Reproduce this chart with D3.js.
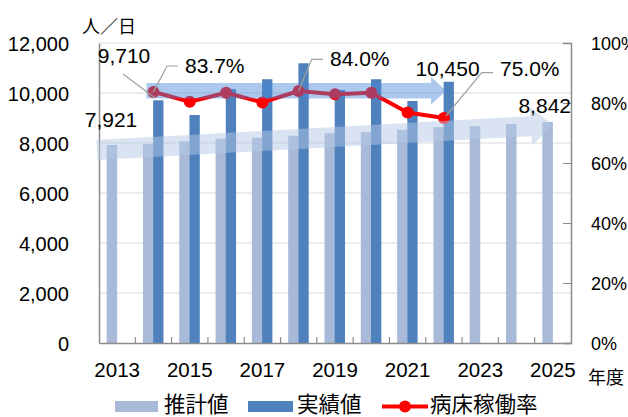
<!DOCTYPE html>
<html><head><meta charset="utf-8">
<script src="https://cdn.jsdelivr.net/npm/d3@7/dist/d3.min.js"></script>
<style>
html,body{margin:0;padding:0;background:#fff;}
text{font-family:"Liberation Sans","Noto Sans CJK JP",sans-serif;fill:#000;}
.cjk{font-family:"Noto Sans CJK JP",sans-serif;}
</style></head>
<body>
<svg id="chart" width="628" height="417"></svg>
<script>
const years = [2013,2014,2015,2016,2017,2018,2019,2020,2021,2022,2023,2024,2025];
const estimate = [7921,7960,8070,8170,8210,8290,8390,8440,8530,8630,8670,8760,8842];
const actual = [null,9710,9120,10150,10550,11190,10120,10550,9680,10450,null,null,null];
const rate = [null,0.837,0.804,0.834,0.802,0.840,0.829,0.834,0.768,0.750,null,null,null];
const yTicksLeft = [0,2000,4000,6000,8000,10000,12000];
const yTicksRight = [0,0.2,0.4,0.6,0.8,1.0];
const xLabelYears = [2013,2015,2017,2019,2021,2023,2025];
const seriesNames = ["推計値","実績値","病床稼働率"];

const svg = d3.select("#chart");
const L = 99, R = 571, T = 43, B = 343;
const x = d3.scaleBand().domain(years).range([L, R]).paddingInner(0).paddingOuter(0);
const yL = d3.scaleLinear().domain([0,12000]).range([B, T]);
const yR = d3.scaleLinear().domain([0,1]).range([B, T]);
const cx = yr => x(yr) + x.bandwidth()/2;
const estColor = "#A9BAD8", actColor = "#4F81BD", lineColor = "#FF0000", axisColor = "#8C8C8C";

// gridlines
svg.append("g").selectAll("line").data(yTicksLeft.filter(d=>d>0)).join("line")
  .attr("x1", L).attr("x2", R).attr("y1", d=>yL(d)).attr("y2", d=>yL(d))
  .attr("stroke", "#D9D9D9").attr("stroke-width", 1);

// left axis
const gL = svg.append("g").attr("transform", `translate(${L},0)`)
  .call(d3.axisLeft(yL).tickValues(yTicksLeft).tickSize(0).tickPadding(30).tickFormat(d3.format(",")));
gL.select(".domain").attr("stroke", axisColor).attr("stroke-width", 1.5);
gL.selectAll("text").attr("font-size", 20).attr("font-family", "Liberation Sans").attr("dy", "0.35em");

// right axis
const gR = svg.append("g").attr("transform", `translate(${R},0)`)
  .call(d3.axisRight(yR).tickValues(yTicksRight).tickSize(-8).tickPadding(30).tickFormat(d3.format(".0%")));
gR.select(".domain").attr("stroke", axisColor).attr("stroke-width", 1.5);
gR.selectAll(".tick line").attr("stroke", axisColor);
gR.selectAll("text").attr("font-size", 18).attr("font-family", "Liberation Sans").attr("text-anchor","start")
  .attr("x", 20).attr("dy","0.35em");

// bars
svg.append("g").selectAll("rect").data(years.map((y,i)=>({y, v:estimate[i]}))).join("rect")
  .attr("x", d=>cx(d.y)-10.5).attr("width", 10.5)
  .attr("y", d=>yL(d.v)).attr("height", d=>B - yL(d.v)).attr("fill", estColor);
svg.append("g").selectAll("rect").data(years.map((y,i)=>({y, v:actual[i]})).filter(d=>d.v!=null)).join("rect")
  .attr("x", d=>cx(d.y)-0.3).attr("width", 10.3)
  .attr("y", d=>yL(d.v)).attr("height", d=>B - yL(d.v)).attr("fill", actColor);

// bottom axis
const gB = svg.append("g").attr("transform", `translate(0,${B})`)
  .call(d3.axisBottom(x).tickSize(0).tickPadding(19).tickValues(xLabelYears));
gB.select(".domain").attr("stroke", axisColor).attr("stroke-width", 1.5);
gB.selectAll("text").attr("font-size", 20.5).attr("font-family","Liberation Sans");
svg.append("g").selectAll("line").data(years.slice(1)).join("line")
  .attr("x1", d=>x(d)).attr("x2", d=>x(d)).attr("y1", B).attr("y2", B-6)
  .attr("stroke", axisColor).attr("stroke-width", 1.2);

// rate line
const rData = years.map((y,i)=>({y, v:rate[i]})).filter(d=>d.v!=null);
svg.append("path").datum(rData)
  .attr("d", d3.line().x(d=>cx(d.y)).y(d=>yR(d.v)))
  .attr("fill","none").attr("stroke", lineColor).attr("stroke-width", 4).attr("stroke-linejoin","round");
svg.append("g").selectAll("circle").data(rData).join("circle")
  .attr("cx", d=>cx(d.y)).attr("cy", d=>yR(d.v)).attr("r", 6).attr("fill", lineColor);

// arrows
function arrow(x0, y0, x1, y1, bw, hl, hw, fill){
  const len = Math.hypot(x1-x0, y1-y0), ang = Math.atan2(y1-y0, x1-x0)*180/Math.PI;
  const pts = [[0,-bw],[len-hl,-bw],[len-hl,-hw],[len,0],[len-hl,hw],[len-hl,bw],[0,bw]];
  svg.append("polygon").attr("points", pts.map(p=>p.join(",")).join(" "))
    .attr("transform", `translate(${x0},${y0}) rotate(${ang})`).attr("fill", fill);
}
arrow(97, 150, 553, 125, 10, 22, 19, "rgba(180,200,230,0.5)");
arrow(146.5, 90.7, 446, 90.7, 7.8, 15, 14, "rgba(70,135,215,0.45)");

// leader lines
const lead = (pts) => svg.append("polyline").attr("points", pts.map(p=>p.join(",")).join(" "))
  .attr("fill","none").attr("stroke","#A0A0A0").attr("stroke-width",1.2);
lead([[123,74],[155,98]]);
lead([[cx(2014),yR(rate[1])],[167,66],[178,66]]);
lead([[cx(2018),yR(rate[5])],[311.7,59.3],[323,59.3]]);
lead([[cx(2022)+2,yR(rate[9])-2],[481.7,72.7],[493,72.7]]);

// data labels
const lbl = (t, xx, yy, anchor) => svg.append("text").attr("x", xx).attr("y", yy)
  .attr("text-anchor", anchor).attr("font-size", 21).text(t);
lbl(d3.format(",")(actual[1]), 124, 63, "middle");
lbl(d3.format(".1%")(rate[1]), 185, 73, "start");
lbl(d3.format(".1%")(rate[5]), 330, 66, "start");
lbl(d3.format(",")(actual[9]), 447.5, 76, "middle");
lbl(d3.format(".1%")(rate[9]), 500, 76, "start");
lbl(d3.format(",")(estimate[0]), 111, 127, "middle");
lbl(d3.format(",")(estimate[12]), 571, 113, "end");

// unit labels
svg.append("text").attr("class","cjk").attr("x", 82).attr("y", 33).attr("font-size", 18).text("人／日");
svg.append("text").attr("class","cjk").attr("x", 588).attr("y", 384).attr("font-size", 18).text("年度");

// legend
const lg = svg.append("g");
lg.append("rect").attr("x",115).attr("y",401).attr("width",43).attr("height",11).attr("fill",estColor);
lg.append("text").attr("class","cjk").attr("x",164).attr("y",412).attr("font-size",21.5).text(seriesNames[0]);
lg.append("rect").attr("x",248).attr("y",401).attr("width",45).attr("height",11).attr("fill",actColor);
lg.append("text").attr("class","cjk").attr("x",297).attr("y",412).attr("font-size",21.5).text(seriesNames[1]);
lg.append("line").attr("x1",382).attr("x2",428).attr("y1",406.5).attr("y2",406.5).attr("stroke",lineColor).attr("stroke-width",4);
lg.append("circle").attr("cx",405).attr("cy",406.5).attr("r",6).attr("fill",lineColor);
lg.append("text").attr("class","cjk").attr("x",430).attr("y",412).attr("font-size",21.5).text(seriesNames[2]);
</script>
</body></html>
